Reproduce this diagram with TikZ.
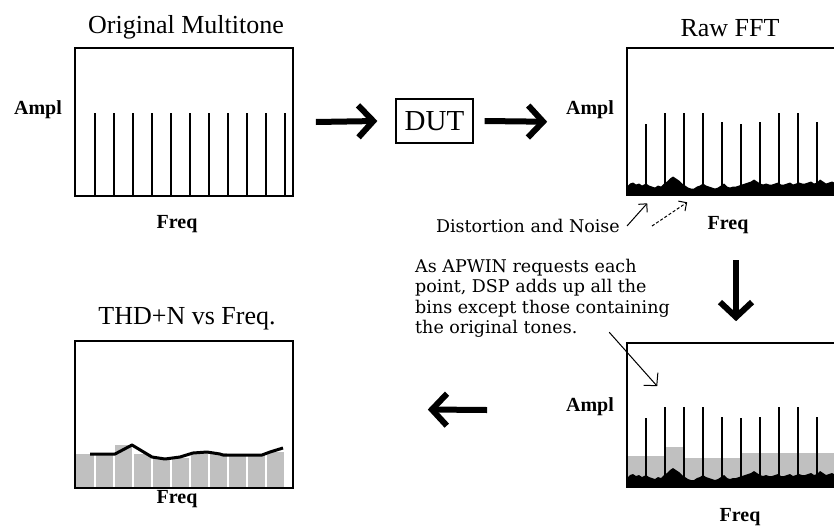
\documentclass[tikz,border=0pt]{standalone}
\usepackage{fontspec}
\setmainfont{Liberation Serif}
\newfontfamily\slabfont{DejaVu Serif}
\usetikzlibrary{arrows.meta}

\definecolor{bandgray}{RGB}{192,192,192}
\newcommand{\ttlfont}{\fontsize{26}{28}\selectfont}
\newcommand{\axfont}{\bfseries\fontsize{20}{22}\selectfont}
\newcommand{\notefont}{\slabfont\fontsize{17.5}{20.3}\selectfont}
\newcommand{\noiselist}{627/9, 630/12, 633/13, 636/11, 639/12, 642/10, 646/12, 649/10, 652/9, 655/8, 658/10, 661/9, 664/12, 667/14, 670/17, 673/19, 676/17, 679/15, 682/12, 685/10, 688/8, 691/7, 694/7, 697/9, 700/10, 703/12, 706/10, 709/9, 712/8, 715/7, 718/8, 721/10, 724/12, 727/9, 730/8, 733/9, 736/9, 739/10, 742/11, 745/12, 748/13, 751/14, 754/16, 757/14, 760/12, 763/11, 766/12, 769/11, 772/11, 775/12, 778/13, 781/11, 784/11, 787/12, 790/13, 793/11, 796/12, 799/13, 802/12, 805/12, 808/13, 811/14, 814/12, 817/13, 820/16, 823/14, 826/12, 829/13, 832/14, 836/12}

\begin{document}
\begin{tikzpicture}[x=1pt, y=-1pt,
  panel/.style={draw, line width=1.6pt, minimum width=218pt, inner sep=0pt},
  tone/.style={line width=1.5pt},
  axlabel/.style={font=\axfont, inner sep=0pt},
  heading/.style={font=\ttlfont, inner sep=0pt},
  bigarrow/.style={line width=6pt, -{Straight Barb[length=15pt, width=32pt]}},
  pointer/.style={line width=1pt, -{Straight Barb[length=6pt, width=12pt]}}]
\path[use as bounding box, fill=white] (0,0) rectangle (834,525);

% filled parts first, frames on top
\begin{scope}[shift={(0,195.5)}]
\fill (627,0) \foreach \x/\h in \noiselist { -- (\x,-\h) } -- (845,0) -- cycle;
\end{scope}
\fill[bandgray] (627,487) -- (627,456) -- (665,456) -- (665,447) -- (684,447) -- (684,458) -- (741,458) -- (741,453) -- (845,453) -- (845,487) -- cycle;
\begin{scope}[shift={(0,487)}]
\fill (627,0) \foreach \x/\h in \noiselist { -- (\x,-\h) } -- (845,0) -- cycle;
\end{scope}
\foreach \a/\b/\t in {75/95/454, 95/114/454, 114/133/445, 133/152/454, 152/171/458, 171/190/458, 190/209/453, 209/228/453, 228/247/455, 247/266/455, 266/285/452}
  \fill[bandgray] ({\a+1},488) rectangle ({\b-1},\t);
\draw[line width=3pt, line join=round] (90,454) -- (115,454) -- (132,445) -- (152,457) -- (165,459) -- (180,457) -- (193,453) -- (207,452) -- (220,454) -- (223,455) -- (262,455) -- (270,452) -- (283,448);

\foreach \i in {0,...,10}
  \draw[tone] ({95+19*\i},196) -- ({95+19*\i},113);
\foreach \x/\t in {646/124, 665/113, 684/113, 703/113, 722/122, 741/124, 760/122, 779/113, 798/113, 817/122}
  \draw[tone] (\x,195) -- (\x,\t);
\foreach \x/\t in {646/418, 665/407, 684/407, 703/407, 722/417, 741/418, 760/417, 779/407, 798/407, 817/417}
  \draw[tone] (\x,486) -- (\x,\t);

\node[panel, minimum height=148pt] (orig) at (184,122) {};
\node[panel, minimum height=147.5pt] (raw) at (736,121.75) {};
\node[panel, minimum height=144pt] (proc) at (736,415) {};
\node[panel, minimum height=147pt] (thd) at (184,414.5) {};

\node[heading] (origtitle) at (186,27) {Original Multitone};
\node[heading] (rawtitle) at (730,28) {Raw FFT};
\node[heading] (thdtitle) at (187,319) {THD+N vs Freq.};

\node[axlabel] (origampl) at (38,110) {Ampl};
\node[axlabel] (origfreq) at (177,224) {Freq};
\node[axlabel] (rawampl) at (590,110) {Ampl};
\node[axlabel] (rawfreq) at (728,225) {Freq};
\node[axlabel] (procampl) at (590,407) {Ampl};
\node[axlabel] (procfreq) at (740,517) {Freq};
\node[axlabel] (thdfreq) at (177,499) {Freq};

\node[draw, line width=1.2pt, minimum width=77pt, minimum height=44pt, inner sep=0pt, font=\fontsize{29}{29}\selectfont] (dut) at (434.5,121) {DUT};

\node[font=\notefont, inner sep=0pt, anchor=east] (dist) at (620,226) {Distortion and Noise};
\node[font=\notefont, inner sep=0pt, anchor=north west, align=left] (note) at (415,259)
  {As APWIN requests each\\point, DSP adds up all the\\bins except those containing\\the original tones.};

\draw[bigarrow] ([xshift=22pt]orig.east) -- ([xshift=-18pt]dut.west);
\draw[bigarrow] ([xshift=11pt]dut.east) -- ([xshift=-79pt]raw.west);
\draw[bigarrow] ([yshift=-64pt]raw.south) -- ([yshift=21pt]proc.north);
\draw[bigarrow] ([xshift=-139pt, yshift=5pt]proc.west) -- ([xshift=134pt, yshift=5pt]thd.east);

\draw[pointer] ([xshift=7pt]dist.east) -- ([xshift=21pt, yshift=-7pt]raw.south west);
\draw[pointer, dash pattern=on 3pt off 2pt] ([xshift=32pt]dist.east) -- ([xshift=61pt, yshift=-6pt]raw.south west);
\draw[line width=1pt, -{Straight Barb[length=9pt, width=19pt]}] ([xshift=-17pt, yshift=10pt]proc.north west) -- ([xshift=31pt, yshift=-44pt]proc.north west);
\end{tikzpicture}
\end{document}
